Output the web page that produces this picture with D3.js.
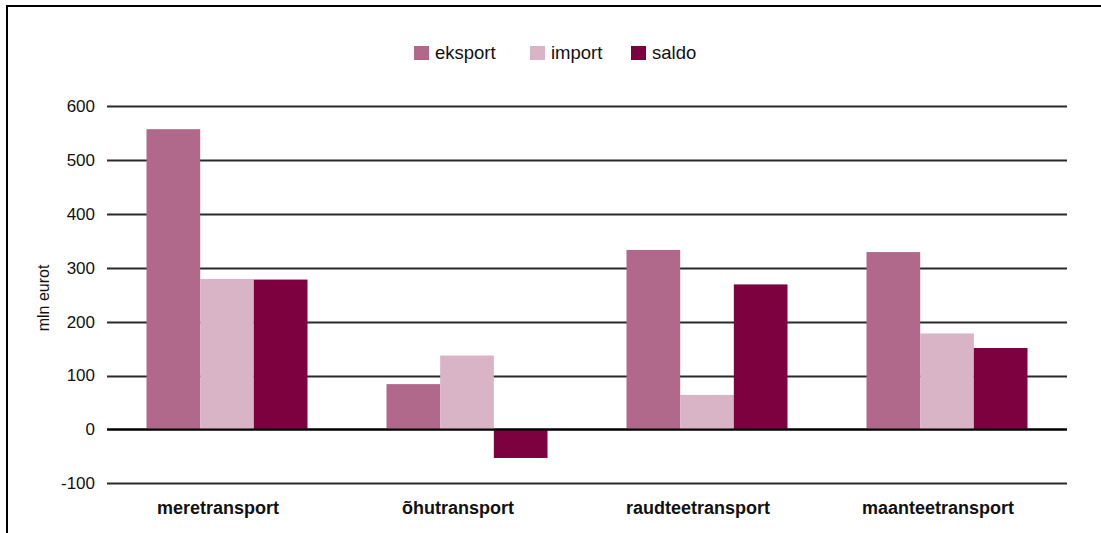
<!DOCTYPE html>
<html><head><meta charset="utf-8">
<script src="https://cdnjs.cloudflare.com/ajax/libs/d3/7.8.5/d3.min.js"></script>
<style>body{margin:0;background:#fff}svg{display:block;font-family:"Liberation Sans",Arial,sans-serif}</style>
</head><body>
<script>
const categories = ["meretransport", "õhutransport", "raudteetransport", "maanteetransport"];
const seriesNames = ["eksport", "import", "saldo"];
const eksport = [557, 84, 333, 329];
const importVals = [279, 137, 64, 178];
const saldo = [278, -53, 269, 151];
const yTicks = [-100, 0, 100, 200, 300, 400, 500, 600];
const colors = ["#b0688b", "#d9b3c6", "#7d003f"];
const series = [eksport, importVals, saldo];

const W = 1101, H = 533;
const svg = d3.select("body").append("svg").attr("width", W).attr("height", H);

// frame
svg.append("path").attr("d", `M7,${H} L7,6 L${W},6`).attr("fill", "none").attr("stroke", "#000").attr("stroke-width", 2);

const x0 = d3.scaleBand().domain(categories).range([107, 1067]).paddingInner(0).paddingOuter(0);
const groupW = 161;
const x1 = d3.scaleBand().domain(seriesNames).range([0, groupW]);
const y = d3.scaleLinear().domain([-100, 600]).range([483.3, 106]);

// gridlines
svg.append("g").selectAll("line").data(yTicks).join("line")
  .attr("x1", 107).attr("x2", 1067)
  .attr("y1", d => Math.round(y(d)) + 0.5).attr("y2", d => Math.round(y(d)) + 0.5)
  .attr("stroke", d => d === 0 ? "#000" : "#2a2a2a").attr("stroke-width", 1.8);

// y labels
svg.append("g").selectAll("text").data(yTicks).join("text")
  .attr("x", 95).attr("y", d => y(d)).attr("dy", "0.35em")
  .attr("text-anchor", "end").attr("font-size", 17).attr("fill", "#111")
  .text(d => d);

svg.append("text").attr("transform", "translate(49,298) rotate(-90)")
  .attr("text-anchor", "middle").attr("font-size", 16).attr("fill", "#111").text("mln eurot");

// bars
const data = [];
categories.forEach((c, i) => seriesNames.forEach((s, j) => data.push({c, s, j, v: series[j][i]})));
svg.append("g").selectAll("rect").data(data).join("rect")
  .attr("x", d => x0(d.c) + (x0.bandwidth() - groupW) / 2 + x1(d.s))
  .attr("width", x1.bandwidth())
  .attr("y", d => y(Math.max(0, d.v)))
  .attr("height", d => Math.abs(y(d.v) - y(0)))
  .attr("fill", d => colors[d.j]);

// redraw zero line on top
svg.append("line").attr("x1", 107).attr("x2", 1067)
  .attr("y1", Math.round(y(0)) + 0.5).attr("y2", Math.round(y(0)) + 0.5)
  .attr("stroke", "#000").attr("stroke-width", 1.8);

// category labels
svg.append("g").selectAll("text").data(categories).join("text")
  .attr("x", d => x0(d) + x0.bandwidth() / 2 - 9).attr("y", 514)
  .attr("text-anchor", "middle").attr("font-size", 18).attr("font-weight", "bold").attr("fill", "#111")
  .text(d => d);

// legend
const legX = [414, 530, 631];
const leg = svg.append("g").selectAll("g").data(seriesNames).join("g")
  .attr("transform", (d, i) => `translate(${legX[i]},46)`);
leg.append("rect").attr("width", 15).attr("height", 14).attr("fill", (d, i) => colors[i]);
leg.append("text").attr("x", 21).attr("y", 13).attr("font-size", 18.5).attr("fill", "#111").text(d => d);
</script>
</body></html>
